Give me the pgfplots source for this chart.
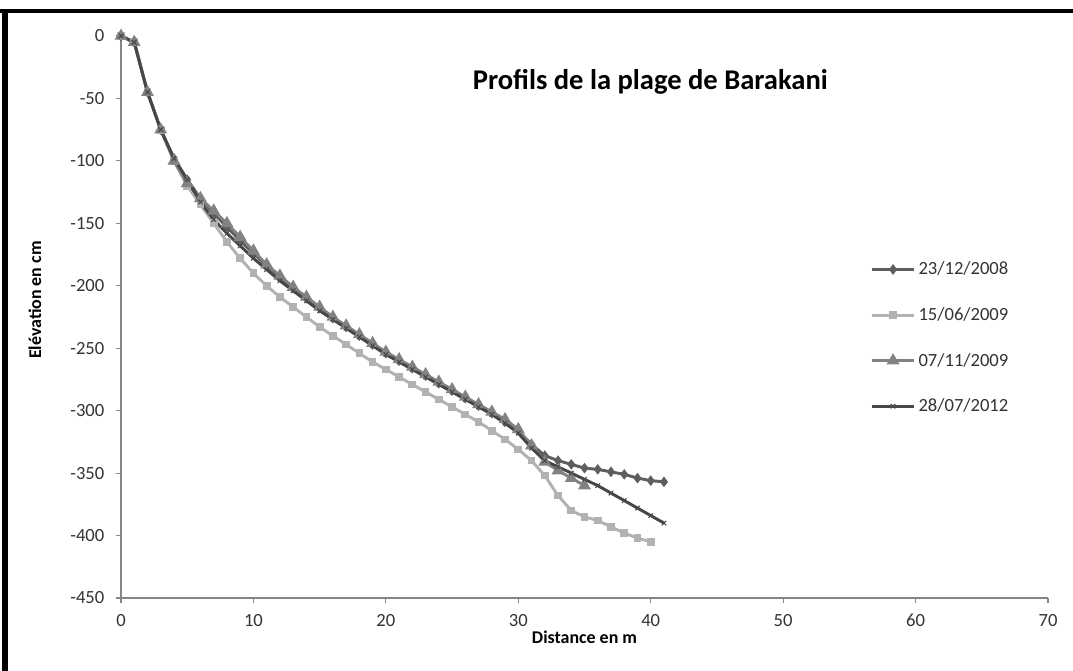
\documentclass[border=0pt]{standalone}
\usepackage{fontspec}
\setmainfont{Carlito}
\usepackage{pgfplots}
\pgfplotsset{compat=1.18}

\definecolor{sA}{HTML}{5E5E5E}
\definecolor{sB}{HTML}{B2B2B2}
\definecolor{sC}{HTML}{828282}
\definecolor{sD}{HTML}{474747}
\definecolor{axgray}{HTML}{868686}
\definecolor{txt}{HTML}{333333}

\begin{document}
\begin{tikzpicture}
% picture is 1073 x 671 px, 1 px = 0.75bp
\path[use as bounding box] (0,0) rectangle (804.75bp,503.25bp);
\fill[black] (0,493.5bp) rectangle (804.75bp,496.5bp);
\fill[black] (1.5bp,0) rectangle (6bp,496.5bp);

\begin{axis}[
    at={(90.75bp,54.75bp)}, anchor=south west,
    scale only axis,
    width=695.25bp, height=421.5bp,
    xmin=0, xmax=70, ymin=-450, ymax=0,
    xtick={0,10,...,70}, ytick={-450,-400,...,0},
    axis lines*=left,
    axis line style={axgray, line width=0.9bp},
    tick align=outside,
    major tick length=4bp,
    tick style={axgray, line width=0.9bp},
    /pgf/number format/assume math mode=true,
    ticklabel style={font=\fontsize{14}{16}\selectfont, text=txt},
    yticklabel style={xshift=-5bp},
    xticklabel style={yshift=-5bp, text height=9bp, text depth=0bp},
    xlabel={Distance en m},
    ylabel={Elévation en cm},
    xlabel style={font=\bfseries\fontsize{13.5}{15}\selectfont,
        at={(axis description cs:0.5,-0.069)}, anchor=center},
    ylabel style={font=\bfseries\fontsize{13.5}{15}\selectfont,
        at={(axis description cs:-0.093,0.53)}, anchor=center},
    legend style={at={(0.808,0.603)}, anchor=north west, draw=none, fill=none,
        font=\fontsize{14}{16}\selectfont, text=txt, row sep=19bp,
        inner sep=0pt, cells={anchor=west}},
    legend image code/.code={\draw[mark repeat=2,mark phase=2,#1]
        plot coordinates {(0bp,0bp) (16bp,0bp) (32bp,0bp)};},
    every axis plot/.append style={line width=2.2bp},
]

\addplot[color=sA, mark=diamond*, mark size=2.2bp, mark options={solid}] coordinates {
(0,0) (1,-5) (2,-45) (3,-75) (4,-98) (5,-115) (6,-130) (7,-142) (8,-153) (9,-164)
(10,-174) (11,-184) (12,-193) (13,-202) (14,-210) (15,-218) (16,-226) (17,-233) (18,-240) (19,-247)
(20,-254) (21,-260) (22,-266) (23,-272) (24,-278) (25,-284) (26,-290) (27,-296) (28,-302) (29,-309)
(30,-316) (31,-327) (32,-336) (33,-340) (34,-343) (35,-346) (36,-347) (37,-349) (38,-351) (39,-354)
(40,-356) (41,-357)
};
\addlegendentry{23/12/2008}

\addplot[color=sB, mark=square*, mark size=1.8bp] coordinates {
(0,0) (1,-5) (2,-45) (3,-75) (4,-100) (5,-120) (6,-135) (7,-150) (8,-165) (9,-178)
(10,-190) (11,-200) (12,-209) (13,-217) (14,-225) (15,-233) (16,-240) (17,-247) (18,-254) (19,-261)
(20,-267) (21,-273) (22,-279) (23,-285) (24,-291) (25,-297) (26,-303) (27,-309) (28,-316) (29,-323)
(30,-331) (31,-340) (32,-352) (33,-368) (34,-380) (35,-385) (36,-388) (37,-393) (38,-398) (39,-402)
(40,-405)
};
\addlegendentry{15/06/2009}

\addplot[color=sC, mark=triangle*, mark size=3.4bp] coordinates {
(0,0) (1,-5) (2,-45) (3,-75) (4,-100) (5,-118) (6,-130) (7,-140) (8,-150) (9,-161)
(10,-172) (11,-183) (12,-192) (13,-201) (14,-209) (15,-217) (16,-225) (17,-232) (18,-239) (19,-246)
(20,-253) (21,-259) (22,-265) (23,-271) (24,-277) (25,-283) (26,-289) (27,-295) (28,-301) (29,-307)
(30,-315) (31,-328) (32,-341) (33,-348) (34,-354) (35,-360)
};
\addlegendentry{07/11/2009}

\addplot[color=sD, mark=x, mark size=2.4bp, mark options={line width=0.8bp}] coordinates {
(0,0) (1,-5) (2,-45) (3,-75) (4,-98) (5,-115) (6,-133) (7,-147) (8,-158) (9,-168)
(10,-178) (11,-187) (12,-196) (13,-204) (14,-212) (15,-220) (16,-227) (17,-234) (18,-241) (19,-248)
(20,-255) (21,-261) (22,-267) (23,-273) (24,-279) (25,-285) (26,-291) (27,-297) (28,-303) (29,-310)
(30,-318) (31,-330) (32,-340) (33,-345) (34,-350) (35,-355) (36,-360) (37,-366) (38,-372) (39,-378)
(40,-384) (41,-390)
};
\addlegendentry{28/07/2012}

\node[font=\bfseries\fontsize{21.5}{25}\selectfont, text=black]
    at (rel axis cs:0.571,0.918) {Profils de la plage de Barakani};
\end{axis}
\end{tikzpicture}
\end{document}
